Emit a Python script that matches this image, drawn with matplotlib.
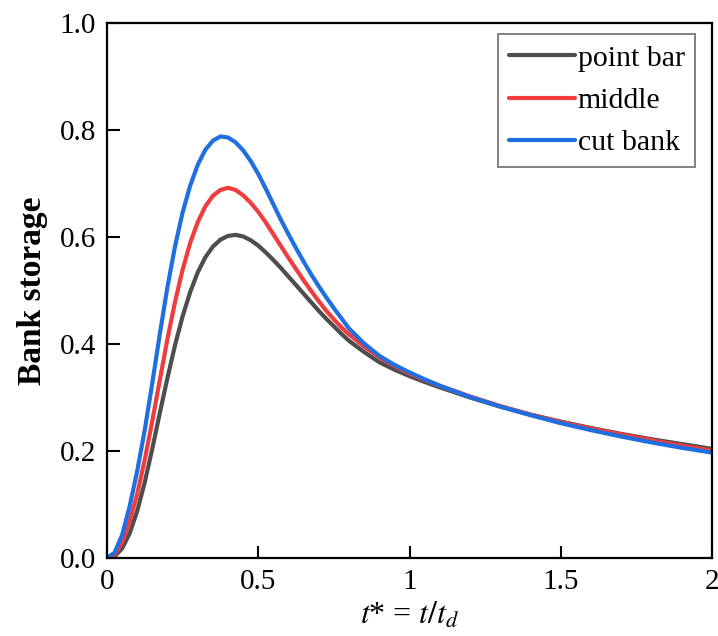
import matplotlib
matplotlib.use("Agg")
import matplotlib.pyplot as plt

t_star = [0, 0.025, 0.05, 0.075, 0.1, 0.125, 0.15, 0.175, 0.2, 0.225, 0.25, 0.275,
          0.3, 0.325, 0.35, 0.375, 0.4, 0.425, 0.45, 0.475, 0.5, 0.525, 0.55, 0.575,
          0.6, 0.625, 0.65, 0.675, 0.7, 0.725, 0.75, 0.775, 0.8, 0.85, 0.9, 0.95,
          1.0, 1.05, 1.1, 1.2, 1.3, 1.4, 1.5, 1.6, 1.7, 1.8, 1.9, 2.0]

point_bar = [0, 0.003, 0.018, 0.046, 0.088, 0.142, 0.205, 0.272, 0.337, 0.398, 0.452, 0.497,
             0.534, 0.562, 0.582, 0.595, 0.602, 0.604, 0.601, 0.594, 0.584, 0.571, 0.557, 0.542,
             0.526, 0.510, 0.494, 0.478, 0.462, 0.447, 0.433, 0.419, 0.406, 0.385, 0.366, 0.352,
             0.340, 0.329, 0.319, 0.300, 0.283, 0.268, 0.255, 0.243, 0.232, 0.222, 0.213, 0.204]

middle = [0, 0.006, 0.029, 0.068, 0.120, 0.184, 0.257, 0.334, 0.410, 0.479, 0.539, 0.589,
          0.628, 0.657, 0.677, 0.688, 0.692, 0.688, 0.678, 0.664, 0.647, 0.627, 0.605, 0.583,
          0.561, 0.540, 0.519, 0.499, 0.480, 0.462, 0.446, 0.431, 0.418, 0.395, 0.375, 0.359,
          0.345, 0.333, 0.322, 0.302, 0.284, 0.268, 0.254, 0.242, 0.231, 0.220, 0.210, 0.201]

cut_bank = [0, 0.010, 0.043, 0.097, 0.163, 0.240, 0.328, 0.420, 0.507, 0.583, 0.646, 0.696,
            0.735, 0.763, 0.780, 0.788, 0.786, 0.777, 0.762, 0.742, 0.718, 0.690, 0.661, 0.632,
            0.605, 0.579, 0.554, 0.530, 0.508, 0.487, 0.467, 0.448, 0.429, 0.401, 0.378, 0.361,
            0.347, 0.334, 0.322, 0.301, 0.283, 0.267, 0.252, 0.239, 0.227, 0.216, 0.206, 0.197]

series_labels = ["point bar", "middle", "cut bank"]
series_colors = ["#4d4d4d", "#f03c3c", "#1f6fe0"]

x_ticks = [0, 0.5, 1, 1.5, 2]
x_tick_labels = ["0", "0.5", "1", "1.5", "2"]
y_ticks = [0.0, 0.2, 0.4, 0.6, 0.8, 1.0]
y_tick_labels = ["0.0", "0.2", "0.4", "0.6", "0.8", "1.0"]

plt.rcParams["font.family"] = ["Liberation Serif", "DejaVu Serif"]
plt.rcParams["mathtext.fontset"] = "stix"

fig = plt.figure(figsize=(7.18, 6.36), dpi=100)
ax = fig.add_axes([107/718, 1 - 558/636, (712 - 107)/718, (558 - 23)/636])

for ys, lab, col in zip([point_bar, middle, cut_bank], series_labels, series_colors):
    ax.plot(t_star, ys, color=col, lw=3, label=lab, solid_capstyle="round",
            solid_joinstyle="round")

ax.set_xlim(0, 2)
ax.set_ylim(0, 1.0)
ax.set_xticks(x_ticks)
ax.set_xticklabels(x_tick_labels)
ax.set_yticks(y_ticks)
ax.set_yticklabels(y_tick_labels)
ax.tick_params(direction="in", length=9, width=1.5, labelsize=21)
ax.tick_params(axis="x", pad=8)
ax.tick_params(axis="y", pad=8)
for sp in ax.spines.values():
    sp.set_linewidth(1.6)

ax.set_ylabel("Bank storage", fontsize=24, fontweight="bold", labelpad=8)
ax.set_xlabel(r"$t$* = $t/t_d$", fontsize=23, labelpad=4)

leg = ax.legend(loc="upper right", bbox_to_anchor=(0.972, 0.979), borderaxespad=0,
                fontsize=21.5, handlelength=2.2, handletextpad=0.1, labelspacing=0.52,
                borderpad=0.35, fancybox=False, frameon=True)
leg.get_frame().set_edgecolor("#555555")
leg.get_frame().set_linewidth(1.3)

fig.savefig("out.png", dpi=100)
